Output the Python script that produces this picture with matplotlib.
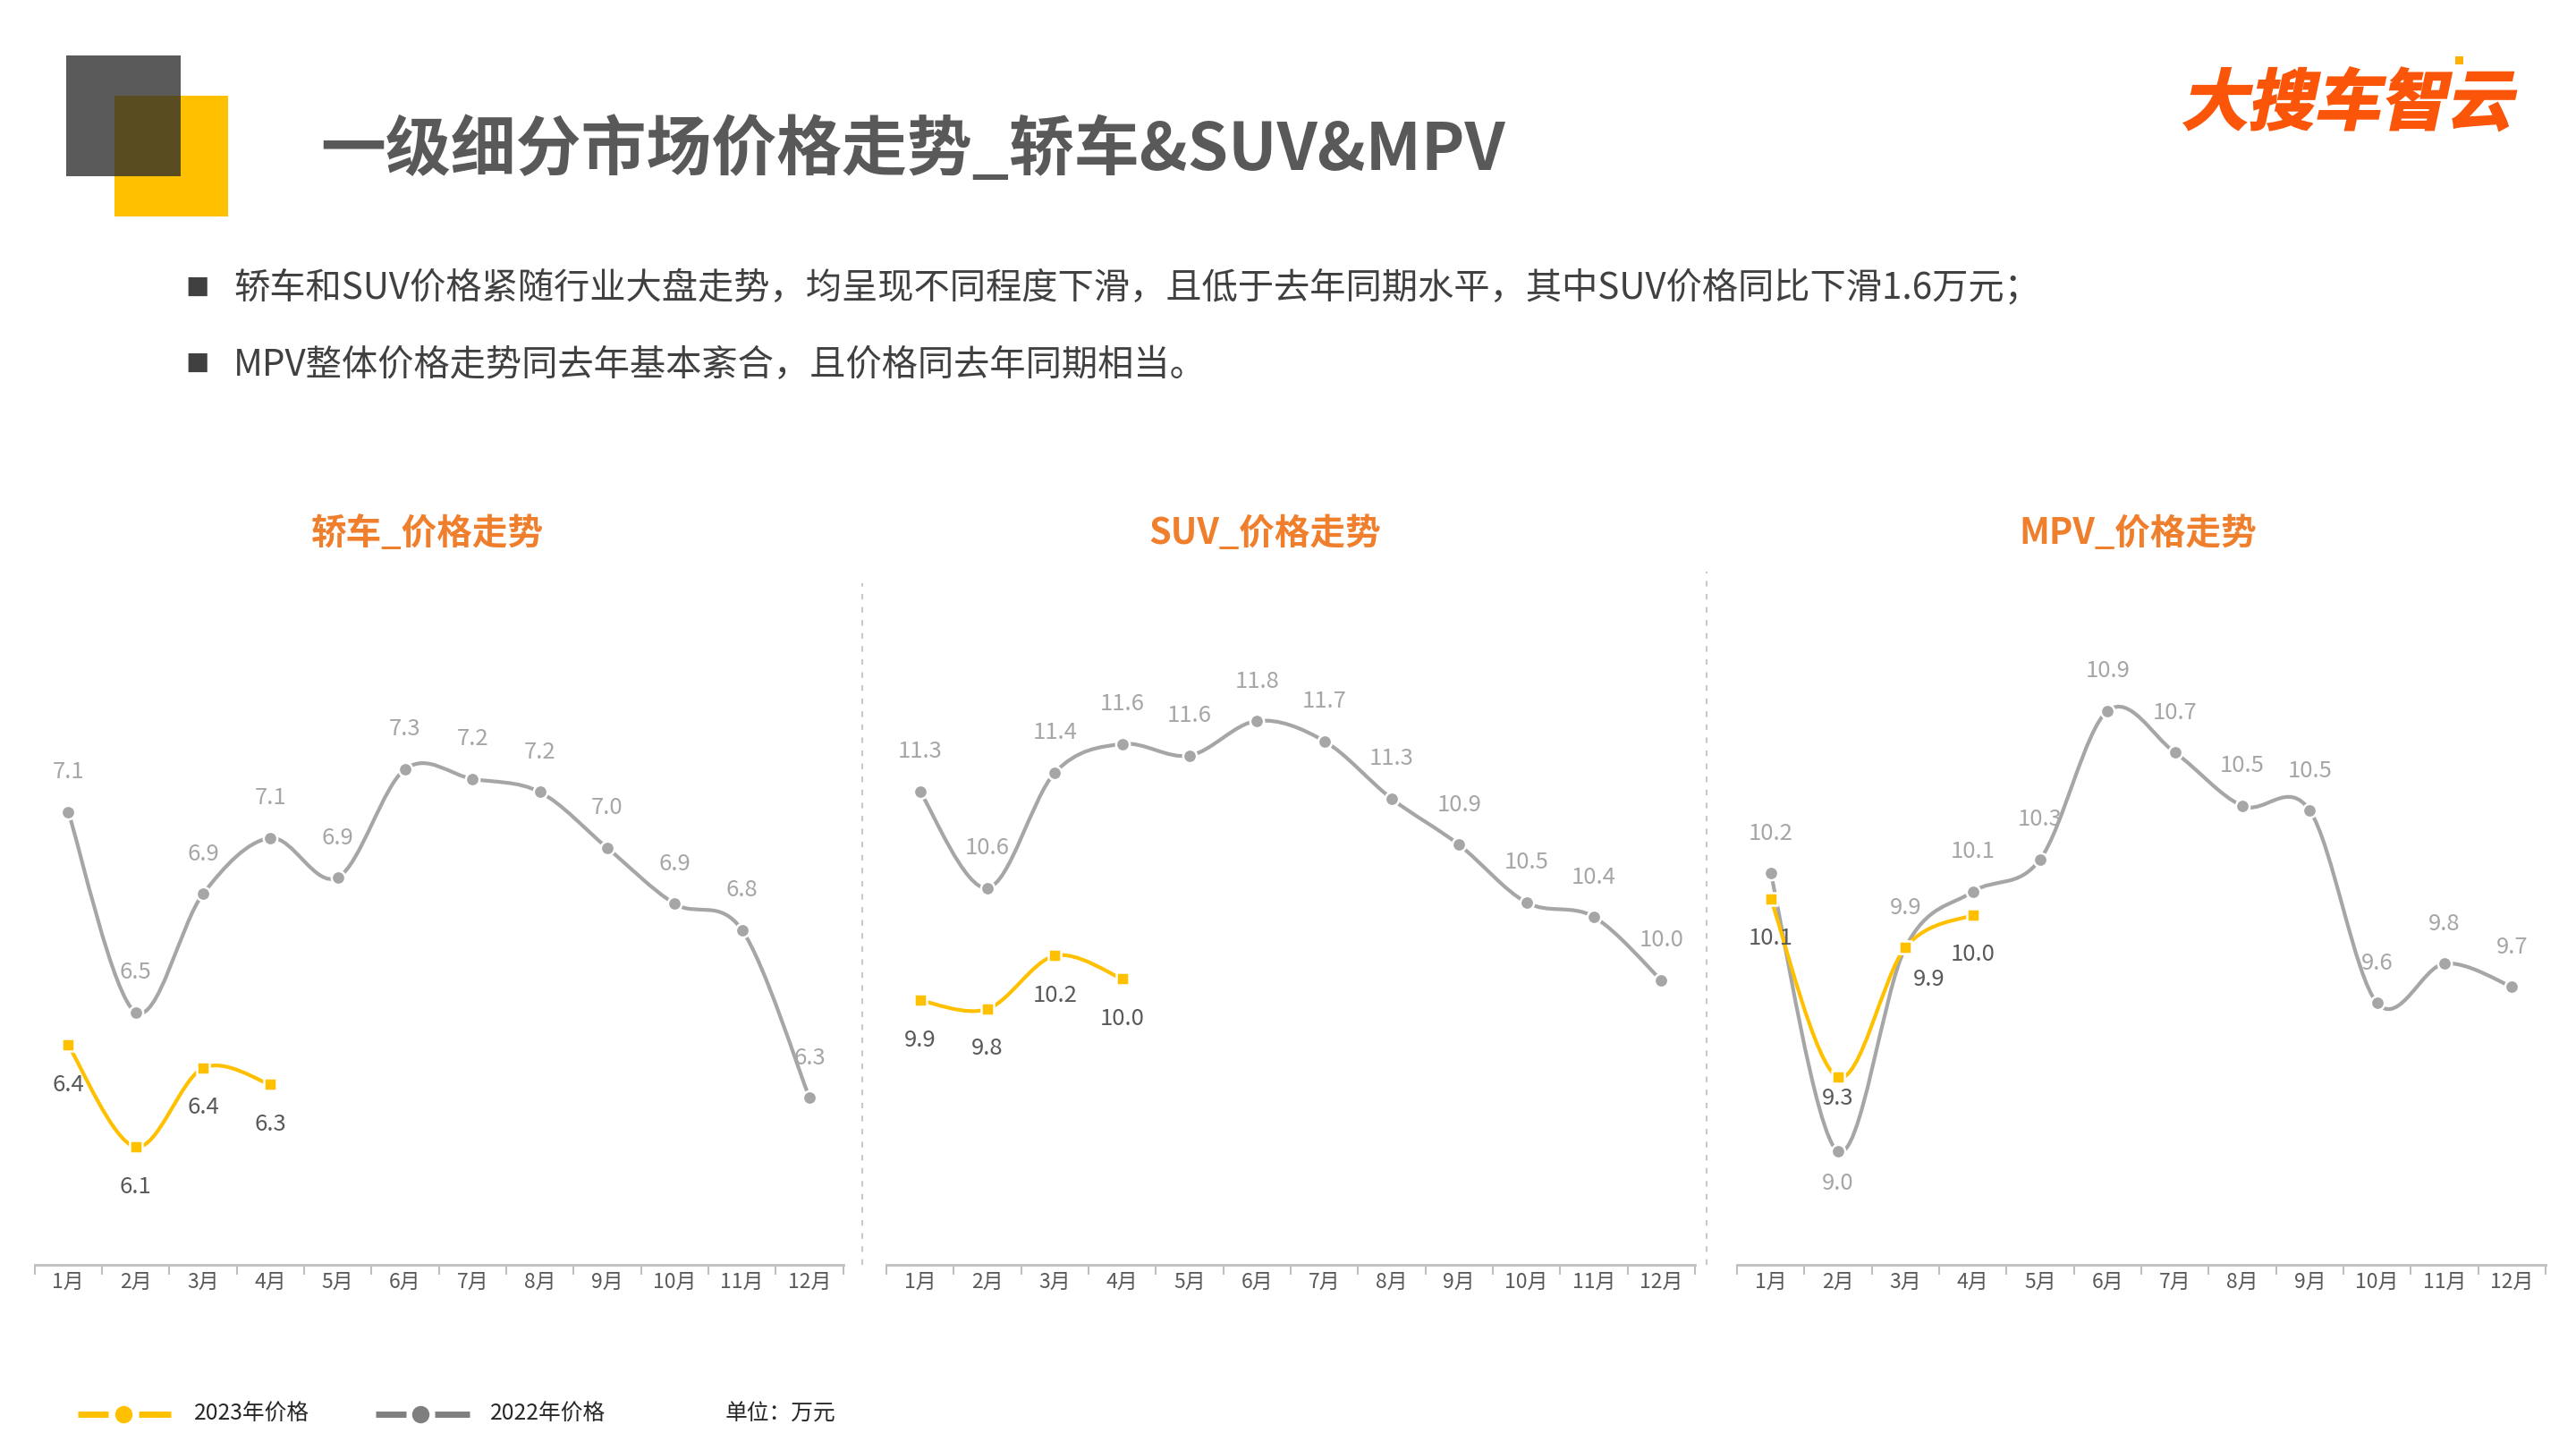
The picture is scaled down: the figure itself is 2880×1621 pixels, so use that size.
import matplotlib
matplotlib.use('Agg')
import matplotlib.pyplot as plt
import numpy as np
from matplotlib.path import Path
from matplotlib.patches import PathPatch, Rectangle
from matplotlib.lines import Line2D
from matplotlib.textpath import TextPath
from matplotlib.font_manager import FontProperties
from matplotlib.transforms import Affine2D

plt.rcParams['font.family'] = ['Noto Sans CJK SC', 'DejaVu Sans']

# ---- data (万元) ----
months = ['1月', '2月', '3月', '4月', '5月', '6月', '7月', '8月', '9月', '10月', '11月', '12月']

sedan_2022 = [7.14, 6.53, 6.89, 7.06, 6.94, 7.27, 7.24, 7.20, 7.03, 6.86, 6.78, 6.27]
sedan_2023 = [6.43, 6.12, 6.36, 6.31]
suv_2022 = [11.31, 10.64, 11.44, 11.64, 11.56, 11.80, 11.66, 11.26, 10.94, 10.54, 10.44, 10.00]
suv_2023 = [9.86, 9.80, 10.17, 10.01]
mpv_2022 = [10.20, 9.00, 9.88, 10.12, 10.26, 10.90, 10.72, 10.49, 10.47, 9.64, 9.81, 9.71]
mpv_2023 = [10.09, 9.32, 9.88, 10.02]

panel_titles = ['轿车_价格走势', 'SUV_价格走势', 'MPV_价格走势']
title = '一级细分市场价格走势_轿车&SUV&MPV'
bullets = ['轿车和SUV价格紧随行业大盘走势，均呈现不同程度下滑，且低于去年同期水平，其中SUV价格同比下滑1.6万元；',
           'MPV整体价格走势同去年基本紊合，且价格同去年同期相当。']
legend_labels = ['2023年价格', '2022年价格']
unit_text = '单位：万元'

YELLOW = '#FFC000'
GRAY = '#A6A6A6'
ORANGE = '#F07F2D'
W, H = 2880, 1621


def smooth_path(xs, ys):
    # catmull-rom style bezier, like office "smoothed line"
    p = np.column_stack([xs, ys]).astype(float)
    n = len(p)
    verts = [p[0]]
    codes = [Path.MOVETO]
    for i in range(n - 1):
        p0 = p[i - 1] if i > 0 else p[i]
        p3 = p[i + 2] if i + 2 < n else p[i + 1]
        c1 = p[i] + (p[i + 1] - p0) / 6
        c2 = p[i + 1] - (p3 - p[i]) / 6
        verts += [c1, c2, p[i + 1]]
        codes += [Path.CURVE4] * 3
    return Path(verts, codes)


fig = plt.figure(figsize=(W / 100, H / 100), dpi=100)
fig.patch.set_facecolor('white')

# decorative squares
fig.add_artist(Rectangle((128 / W, 1 - 242 / H), 127 / W, 135 / H, transform=fig.transFigure,
                         fc=YELLOW, ec='none'))
fig.add_artist(Rectangle((74 / W, 1 - 197 / H), 128 / W, 135 / H, transform=fig.transFigure,
                         fc='#2B2B2B', alpha=0.78, ec='none'))

fig.text(358 / W, 1 - 169 / H, title, fontsize=52.5, fontweight='bold', color='#595959',
         ha='left', va='center')

# logo
fp = FontProperties(family='Noto Sans CJK SC', weight='bold')
tp = TextPath((0, 0), '大搜车智云', size=0.74, prop=fp)
ext = tp.get_extents()
logo_tr = (Affine2D().translate(-ext.x0, -ext.y0).skew_deg(12, 0)
           .translate(24.40, (H - 146) / 100) + fig.dpi_scale_trans)
fig.add_artist(PathPatch(tp, transform=logo_tr, fc='#FA5508', ec='#FA5508', lw=1.5))
fig.add_artist(Rectangle((2745 / W, 1 - 72 / H), 9 / W, 9 / H, transform=fig.transFigure,
                         fc='#FFB000', ec='none'))

# bullet text
for yy, txt in zip([323, 408], bullets):
    fig.text(207 / W, 1 - yy / H, '■', fontsize=19, color='#404040', ha='left', va='center')
    fig.text(261 / W, 1 - yy / H, txt, fontsize=29, color='#404040', ha='left', va='center')

# ---- panels ----
panels = [
    (sedan_2022, sedan_2023, (5.761, 7.705), 38.6, 478),
    (suv_2022, suv_2023, (8.024, 12.458), 990.9, 1414),
    (mpv_2022, mpv_2023, (8.511, 11.265), 1942, 2390),
]
# label offsets (points) that differ from the default placement
label_shift = {(2, 1, 1): (0, -26), (2, 0, 1): (0, -17), (2, 0, 2): (19, -26)}

for k, (v22, v23, ylim, left_px, title_x) in enumerate(panels):
    ax = fig.add_axes([left_px / W, 207 / H, 904 / W, 714 / H])
    ax.set_xlim(-0.5, 11.5)
    ax.set_ylim(*ylim)
    ax.patch.set_alpha(0)
    for s in ['top', 'right', 'left']:
        ax.spines[s].set_visible(False)
    ax.spines['bottom'].set_color('#BFBFBF')
    ax.spines['bottom'].set_linewidth(2)
    ax.set_yticks([])
    ax.set_xticks(np.arange(-0.5, 12, 1))
    ax.set_xticklabels([])
    ax.tick_params(axis='x', which='major', length=8, width=1.5, color='#BFBFBF', direction='out')
    ax.set_xticks(np.arange(12), minor=True)
    ax.set_xticklabels(months, minor=True, fontsize=16.5, color='#595959')
    ax.tick_params(axis='x', which='minor', length=0, pad=6)

    x22 = np.arange(len(v22))
    x23 = np.arange(len(v23))
    ax.add_patch(PathPatch(smooth_path(x22, v22), fill=False, ec=GRAY, lw=3, zorder=2,
                           capstyle='round'))
    ax.plot(x22, v22, ls='none', marker='o', ms=11, mfc=GRAY, mec='white', mew=1.8, zorder=3)
    ax.add_patch(PathPatch(smooth_path(x23, v23), fill=False, ec=YELLOW, lw=3, zorder=4,
                           capstyle='round'))
    ax.plot(x23, v23, ls='none', marker='s', ms=10.5, mfc=YELLOW, mec='white', mew=1.8, zorder=5)

    for i, v in enumerate(v22):
        dx, dy = label_shift.get((k, 1, i), (0, 32))
        ax.annotate(f'{v:.1f}', (i, v), xytext=(dx, dy), textcoords='offset points',
                    ha='center', va='center', fontsize=18.5, color='#A6A6A6', zorder=6,
                    annotation_clip=False)
    for i, v in enumerate(v23):
        dx, dy = label_shift.get((k, 0, i), (0, -32))
        ax.annotate(f'{v:.1f}', (i, v), xytext=(dx, dy), textcoords='offset points',
                    ha='center', va='center', fontsize=18.5, color='#595959', zorder=6,
                    annotation_clip=False)

    fig.text(title_x / W, 1 - 597 / H, panel_titles[k], fontsize=28.5, fontweight='bold',
             color=ORANGE, ha='center', va='center')

# dashed separators
for xs, ytop in [(964, 652), (1908, 639)]:
    fig.add_artist(Line2D([xs / W, xs / W], [207 / H, 1 - ytop / H], transform=fig.transFigure,
                          color='#C8C8C8', lw=1.5, ls=(0, (3, 4))))

# legend
ly = 1 - 1581 / H
for color, (a, b, m, c, d), tx, lab in [(YELLOW, (87, 121, 138, 155, 191), 217, legend_labels[0]),
                                        ('#7F7F7F', (420, 454, 470, 486, 525), 548, legend_labels[1])]:
    fig.add_artist(Line2D([a / W, b / W], [ly, ly], transform=fig.transFigure, color=color,
                          lw=5, solid_capstyle='butt'))
    fig.add_artist(Line2D([c / W, d / W], [ly, ly], transform=fig.transFigure, color=color,
                          lw=5, solid_capstyle='butt'))
    fig.add_artist(Line2D([m / W], [ly], transform=fig.transFigure, color=color, marker='o',
                          ms=14, mec='none', ls='none'))
    fig.text(tx / W, ly, lab, fontsize=17.8, color='#262626', ha='left', va='center')
fig.text(811 / W, ly, unit_text, fontsize=17.8, color='#262626', ha='left', va='center')

fig.savefig('out.png', dpi=100)
